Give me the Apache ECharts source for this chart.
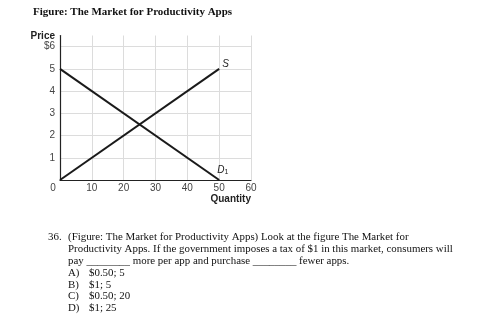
<!DOCTYPE html>
<html>
<head>
<meta charset="utf-8">
<script src="https://cdn.jsdelivr.net/npm/echarts@6/dist/echarts.min.js"></script>
<style>
  html, body { margin: 0; padding: 0; background: #fff; }
  #chart { width: 494px; height: 334px; }
</style>
</head>
<body>
<div id="chart"></div>
<script>
// data
const quantity = [0, 50];
const supplyPrice = [0, 5];
const demandPrice = [5, 0];
const yTickLabels = ['0', '1', '2', '3', '4', '5', '$6'];
const xTickLabels = ['0', '10', '20', '30', '40', '50', '60'];

const questionNumber = '36.';
const questionLines = [
  '(Figure: The Market for Productivity Apps) Look at the figure The Market for',
  'Productivity Apps. If the government imposes a tax of $1 in this market, consumers will',
  'pay ________ more per app and purchase ________ fewer apps.'
];
const answerLetters = ['A)', 'B)', 'C)', 'D)'];
const answerTexts = ['$0.50; 5', '$1; 5', '$0.50; 20', '$1; 25'];

const serif = '"Liberation Serif", "Times New Roman", serif';
const sans = '"Liberation Sans", Arial, sans-serif';

const chart = echarts.init(document.getElementById('chart'));

// question text below the chart
const texts = [];
const qFont = '10.9px ' + serif;
texts.push({ type: 'text', x: 48, y: 237, style: { text: questionNumber, font: qFont, fill: '#111', verticalAlign: 'middle' } });
questionLines.forEach((t, i) => {
  texts.push({ type: 'text', x: 68, y: 237 + i * 12, style: { text: t, font: qFont, fill: '#111', verticalAlign: 'middle' } });
});
answerLetters.forEach((t, i) => {
  const y = 273 + i * 11.8;
  texts.push({ type: 'text', x: 68, y: y, style: { text: t, font: qFont, fill: '#111', verticalAlign: 'middle' } });
  texts.push({ type: 'text', x: 89, y: y, style: { text: answerTexts[i], font: qFont, fill: '#111', verticalAlign: 'middle' } });
});

const option = {
  animation: false,
  title: {
    text: 'Figure: The Market for Productivity Apps',
    left: 33,
    top: 7,
    padding: 0,
    textStyle: { fontFamily: serif, fontWeight: 'bold', fontSize: 11, color: '#111' }
  },
  grid: { left: 60, right: 243, top: 35.5, bottom: 154 },
  xAxis: {
    type: 'value',
    min: 0,
    max: 60,
    interval: 10,
    name: 'Quantity',
    nameLocation: 'end',
    nameGap: 0,
    nameTextStyle: { fontFamily: sans, fontWeight: 'bold', fontSize: 10, color: '#222', align: 'right', verticalAlign: 'top', padding: [14, 0, 0, 0] },
    axisLine: { show: true, lineStyle: { color: '#222', width: 1.2 } },
    axisTick: { show: false },
    axisLabel: {
      margin: 3,
      fontFamily: sans,
      fontSize: 10,
      color: '#444',
      formatter: (v) => {
        const s = xTickLabels[Math.round(v / 10)];
        return v === 0 ? '{o|' + s + '}' : s;
      },
      rich: { o: { fontFamily: sans, fontSize: 10, color: '#444', padding: [0, 14, 0, 0] } }
    },
    splitLine: { show: true, lineStyle: { color: '#dcdcdc', width: 1 } }
  },
  yAxis: {
    type: 'value',
    min: 0,
    max: 6.5,
    interval: 1,
    name: 'Price',
    nameLocation: 'end',
    nameGap: -2,
    nameTextStyle: { fontFamily: sans, fontWeight: 'bold', fontSize: 10, color: '#222', align: 'right', verticalAlign: 'middle', padding: [0, 5, 0, 0] },
    axisLine: { show: true, lineStyle: { color: '#222', width: 1.2 } },
    axisTick: { show: false },
    axisLabel: {
      margin: 5,
      fontFamily: sans,
      fontSize: 10,
      color: '#444',
      showMaxLabel: false,
      formatter: (v) => (v === 0 || v > 6) ? '' : yTickLabels[Math.round(v)]
    },
    splitLine: { show: true, showMaxLine: false, lineStyle: { color: '#dcdcdc', width: 1 } }
  },
  series: [
    {
      name: 'S',
      type: 'line',
      symbol: 'none',
      lineStyle: { color: '#1a1a1a', width: 2 },
      endLabel: {
        show: true, distance: 3, offset: [0, -5],
        formatter: 'S', fontFamily: sans, fontStyle: 'italic', fontSize: 10, color: '#222'
      },
      data: quantity.map((q, i) => [q, supplyPrice[i]])
    },
    {
      name: 'D1',
      type: 'line',
      symbol: 'none',
      lineStyle: { color: '#1a1a1a', width: 2 },
      endLabel: {
        show: true, distance: 0, offset: [-2, -10],
        formatter: '{d|D}{s|1}',
        rich: {
          d: { fontFamily: sans, fontStyle: 'italic', fontSize: 10, color: '#222' },
          s: { fontFamily: sans, fontSize: 7, color: '#222', verticalAlign: 'bottom', padding: [5, 0, 0, 0] }
        }
      },
      data: quantity.map((q, i) => [q, demandPrice[i]])
    }
  ],
  graphic: texts
};

chart.setOption(option);
</script>
</body>
</html>
